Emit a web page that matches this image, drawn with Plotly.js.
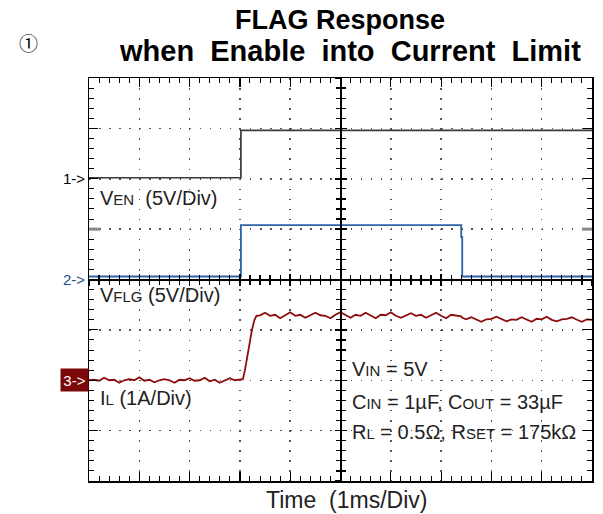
<!DOCTYPE html>
<html>
<head>
<meta charset="utf-8">
<script src="https://cdn.plot.ly/plotly-3.0.1.min.js"></script>
<style>html,body{margin:0;padding:0;background:#fff;}#chart{width:603px;height:514px;}</style>
</head>
<body>
<div id="chart"></div>
<script>
// ---- data (time in ms, volts / amps) ----
const time_ven = [0, 3.02, 3.02, 10];
const ven = [0.1, 0.1, 4.8, 4.8];

const time_flg = [0, 3.02, 3.02, 7.40, 7.40, 7.42, 7.42, 10];
const vflg = [0.3, 0.3, 5.4, 5.4, 4.2, 4.2, 0.3, 0.3];

const time_il_low = [0,0.1,0.2,0.3,0.4,0.5,0.6,0.7,0.8,0.9,1.0,1.1,1.2,1.3,1.4,1.5,1.6,1.7,1.8,1.9,2.0,2.1,2.2,2.3,2.4,2.5,2.6,2.7,2.8,2.9,3.0];
const il_low = [0.00,0.01,-0.01,0.05,0.00,0.01,-0.05,0.00,0.02,0.00,0.06,-0.01,0.01,-0.04,0.00,0.02,0.00,-0.05,0.01,0.00,0.04,-0.01,0.00,0.05,-0.02,0.01,-0.05,0.00,0.04,0.00,0.01];
const time_il_ramp = [3.06, 3.10, 3.17, 3.24, 3.29, 3.33];
const il_ramp = [0.02, 0.2, 0.6, 1.0, 1.2, 1.28];
const time_il_high1 = [3.4,3.5,3.6,3.7,3.8,3.9,4.0,4.1,4.2,4.3,4.4,4.5,4.6,4.7,4.8,4.9,5.0,5.1,5.2,5.3,5.4,5.5,5.6,5.7,5.8,5.9,6.0,6.1,6.2,6.3,6.4,6.5,6.6,6.7,6.8,6.9,7.0,7.1,7.2,7.3,7.4];
const il_high1 = [1.29,1.34,1.28,1.30,1.23,1.29,1.35,1.28,1.30,1.24,1.29,1.34,1.29,1.28,1.23,1.30,1.35,1.29,1.24,1.30,1.28,1.34,1.29,1.23,1.30,1.29,1.35,1.28,1.24,1.29,1.33,1.28,1.30,1.24,1.29,1.34,1.28,1.23,1.30,1.29,1.27];
const time_il_step = [7.42];
const il_step = [1.24];
const time_il_high2 = [7.5,7.6,7.7,7.8,7.9,8.0,8.1,8.2,8.3,8.4,8.5,8.6,8.7,8.8,8.9,9.0,9.1,9.2,9.3,9.4,9.5,9.6,9.7,9.8,9.9,10.0];
const il_high2 = [1.21,1.25,1.20,1.16,1.21,1.22,1.26,1.21,1.17,1.21,1.20,1.25,1.21,1.16,1.22,1.21,1.26,1.20,1.17,1.21,1.22,1.25,1.20,1.16,1.21,1.20];

// channel settings: volts (or amps) per division and zero position (divisions from bottom)
const ch_scale = {ven: 5, flg: 5, il: 1};
const ch_zero = {ven: 6, flg: 4, il: 2};
const n_xdiv = 10, n_ydiv = 8;

const time_il = time_il_low.concat(time_il_ramp, time_il_high1, time_il_step, time_il_high2);
const il = il_low.concat(il_ramp, il_high1, il_step, il_high2);

function chRange(k){ return [-ch_zero[k]*ch_scale[k], (n_ydiv-ch_zero[k])*ch_scale[k]]; }

const FONT = '"Liberation Sans", Arial, Helvetica, sans-serif';

const traces = [
  {x:[null], y:[null], xaxis:'x', yaxis:'y', showlegend:false, hoverinfo:'skip'},
  {x:time_ven, y:ven, xaxis:'x', yaxis:'y2', mode:'lines', line:{color:'#3a3a3a', width:1.7}, showlegend:false},
  {x:time_flg, y:vflg, xaxis:'x', yaxis:'y3', mode:'lines', line:{color:'#2c63a8', width:1.8}, showlegend:false},
  {x:time_il, y:il, xaxis:'x', yaxis:'y4', mode:'lines', line:{color:'#8e0b0b', width:1.8}, showlegend:false},
  {x:[null], y:[null], xaxis:'x2', yaxis:'y', showlegend:false, hoverinfo:'skip'},
  {x:[null], y:[null], xaxis:'x3', yaxis:'y', showlegend:false, hoverinfo:'skip'},
  {x:[null], y:[null], xaxis:'x', yaxis:'y5', showlegend:false, hoverinfo:'skip'},
  {x:[null], y:[null], xaxis:'x', yaxis:'y6', showlegend:false, hoverinfo:'skip'}
];

function frameAxis(n){
  return {range:[0,n], dtick:1, tick0:0, showticklabels:false, ticks:'inside', ticklen:9, tickwidth:1.2,
    tickcolor:'#000', mirror:'ticks', showline:true, linecolor:'#000', linewidth:1.5,
    showgrid:true, gridcolor:'#555', gridwidth:1.5, griddash:'1.5px,8.56px', zeroline:false, fixedrange:true,
    minor:{dtick:0.2, tick0:0, ticks:'inside', ticklen:5, tickwidth:1, tickcolor:'#000', showgrid:false}};
}
function centerAxis(n, over, dir){
  return {overlaying:over, anchor:'free', position:0.5, range:[0,n], dtick:1, tick0:0, showticklabels:false,
    ticks:dir, ticklen:5, tickwidth:1.5, tickcolor:'#000', showline:true, linecolor:'#000', linewidth:2,
    showgrid:false, zeroline:false, fixedrange:true,
    minor:{dtick:0.2, tick0:0, ticks:dir, ticklen:4, tickwidth:1.2, tickcolor:'#000', showgrid:false}};
}

const sm = s => '<span style="font-size:15px">' + s + '</span>';
const NB = '\u00A0';
const GAP = NB + NB;

const annotations = [
  {text:'FLAG Response', xref:'paper', yref:'paper', x:0.499, y:1.144, xanchor:'center', yanchor:'middle', showarrow:false, font:{family:FONT, size:27, color:'#000', weight:'bold'}},
  {text:'when' + GAP + 'Enable' + GAP + 'into' + GAP + 'Current' + GAP + 'Limit', xref:'paper', yref:'paper', x:0.519, y:1.067, xanchor:'center', yanchor:'middle', showarrow:false, font:{family:FONT, size:29, color:'#000', weight:'bold'}},
  {text:'\u2460', xref:'paper', yref:'paper', x:-0.121, y:1.087, xanchor:'center', yanchor:'middle', showarrow:false, font:{family:'"Noto Sans CJK JP", "DejaVu Sans"', size:19, color:'#000'}},
  {text:'1->', xref:'paper', yref:'y', x:0, y:6, xanchor:'right', yanchor:'middle', xshift:-2, showarrow:false, font:{family:FONT, size:15, color:'#000'}},
  {text:'2->', xref:'paper', yref:'y', x:0, y:4, xanchor:'right', yanchor:'middle', xshift:-2, showarrow:false, font:{family:FONT, size:15, color:'#1f4e8c'}},
  {text:'3->', xref:'paper', yref:'y', x:0, y:2, xanchor:'right', yanchor:'middle', showarrow:false, bgcolor:'#7a0808', width:25, height:20, borderpad:1, font:{family:FONT, size:15, color:'#fff'}},
  {text:'V' + sm('EN') + NB + NB + '(5V/Div)', xref:'paper', yref:'paper', x:0.018, y:0.702, xanchor:'left', yanchor:'middle', showarrow:false, font:{family:FONT, size:20, color:'#222'}},
  {text:'V' + sm('FLG') + ' (5V/Div)', xref:'paper', yref:'paper', x:0.018, y:0.4615, xanchor:'left', yanchor:'middle', showarrow:false, font:{family:FONT, size:20, color:'#222'}},
  {text:'I' + sm('L') + ' (1A/Div)', xref:'paper', yref:'paper', x:0.018, y:0.206, xanchor:'left', yanchor:'middle', showarrow:false, font:{family:FONT, size:20, color:'#222'}},
  {text:'V' + sm('IN') + ' = 5V', xref:'paper', yref:'paper', x:0.519, y:0.278, xanchor:'left', yanchor:'middle', showarrow:false, font:{family:FONT, size:20, color:'#222'}},
  {text:'C' + sm('IN') + ' = 1\u00B5F, C' + sm('OUT') + ' = 33\u00B5F', xref:'paper', yref:'paper', x:0.519, y:0.196, xanchor:'left', yanchor:'middle', showarrow:false, font:{family:FONT, size:20, color:'#222'}},
  {text:'R' + sm('L') + ' = 0.5\u03A9, R' + sm('SET') + ' = 175k\u03A9', xref:'paper', yref:'paper', x:0.519, y:0.1216, xanchor:'left', yanchor:'middle', showarrow:false, font:{family:FONT, size:20, color:'#222'}},
  {text:'Time' + NB + NB + '(1ms/Div)', xref:'paper', yref:'paper', x:0.512, y:-0.047, xanchor:'center', yanchor:'middle', showarrow:false, font:{family:FONT, size:23, color:'#222'}}
];

const shapes = [
  {type:'line', xref:'paper', yref:'y', x0:0, x1:0.022, y0:5, y1:5, line:{color:'#888', width:3}},
  {type:'line', xref:'paper', yref:'y', x0:0.98, x1:1, y0:5, y1:5, line:{color:'#888', width:3}}
];

const layout = {
  width:603, height:514,
  margin:{l:89, r:11, t:78, b:33, pad:0},
  paper_bgcolor:'#fff', plot_bgcolor:'#fff',
  showlegend:false,
  xaxis: frameAxis(n_xdiv),
  yaxis: frameAxis(n_ydiv),
  yaxis2: {overlaying:'y', range:chRange('ven'), visible:false, fixedrange:true},
  yaxis3: {overlaying:'y', range:chRange('flg'), visible:false, fixedrange:true},
  yaxis4: {overlaying:'y', range:chRange('il'), visible:false, fixedrange:true},
  xaxis2: centerAxis(n_xdiv, 'x', 'inside'),
  xaxis3: centerAxis(n_xdiv, 'x', 'outside'),
  yaxis5: centerAxis(n_ydiv, 'y', 'inside'),
  yaxis6: centerAxis(n_ydiv, 'y', 'outside'),
  annotations: annotations,
  shapes: shapes
};

Plotly.newPlot('chart', traces, layout, {displayModeBar:false, staticPlot:true});
</script>
</body>
</html>
